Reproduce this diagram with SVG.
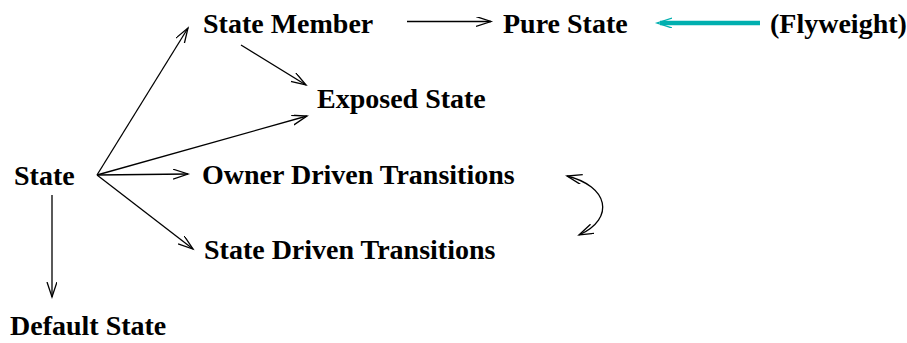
<svg xmlns="http://www.w3.org/2000/svg" width="907" height="343" viewBox="0 0 907 343">
<style>
text{font-family:"Liberation Serif","Times New Roman",serif;font-weight:bold;font-size:28px;fill:#000}
.c{fill:none;stroke:#000;stroke-width:1.3}
.t{fill:none;stroke:#00AFAF;stroke-width:4.5}
</style>
<defs>
<marker id="a" markerUnits="userSpaceOnUse" markerWidth="20" markerHeight="12" refX="15" refY="5" orient="auto-start-reverse" viewBox="0 0 20 12">
<path d="M0,0 L15,5 L0,10" fill="none" stroke="#000" stroke-width="1.3"/>
</marker>
<marker id="at" markerUnits="userSpaceOnUse" markerWidth="20" markerHeight="12" refX="15" refY="5" orient="auto" viewBox="0 0 20 12">
<path d="M0,0 L15,5 L0,10" fill="none" stroke="#00AFAF" stroke-width="1.3"/>
</marker>
</defs>
<g id="connectors">
<line class="c" x1="97" y1="175" x2="188" y2="28" marker-end="url(#a)"/>
<line class="c" x1="97" y1="175" x2="307" y2="116" marker-end="url(#a)"/>
<line class="c" x1="97" y1="175" x2="188" y2="174" marker-end="url(#a)"/>
<line class="c" x1="97" y1="175" x2="193" y2="249" marker-end="url(#a)"/>
<line class="c" x1="241" y1="45" x2="306" y2="85" marker-end="url(#a)"/>
<line class="c" x1="52" y1="195" x2="52" y2="297" marker-end="url(#a)"/>
<line class="c" x1="407" y1="21.5" x2="491" y2="21.5" marker-end="url(#a)"/>
<line class="t" x1="760" y1="23" x2="660" y2="23"/>
<line stroke="none" x1="720" y1="23" x2="657" y2="23" marker-end="url(#at)" fill="none"/>
<path class="c" d="M567,176 C608,186 616,218 579,235" marker-start="url(#a)" marker-end="url(#a)"/>
</g>
<g id="state"><text x="14" y="185">State</text></g>
<g id="state-member"><text x="203" y="33">State Member</text></g>
<g id="pure-state"><text x="503" y="33">Pure State</text></g>
<g id="flyweight"><text x="770" y="33">(Flyweight)</text></g>
<g id="exposed-state"><text x="317" y="108">Exposed State</text></g>
<g id="owner-driven"><text x="202" y="184">Owner Driven Transitions</text></g>
<g id="state-driven"><text x="204" y="259">State Driven Transitions</text></g>
<g id="default-state"><text x="10" y="335">Default State</text></g>
</svg>
